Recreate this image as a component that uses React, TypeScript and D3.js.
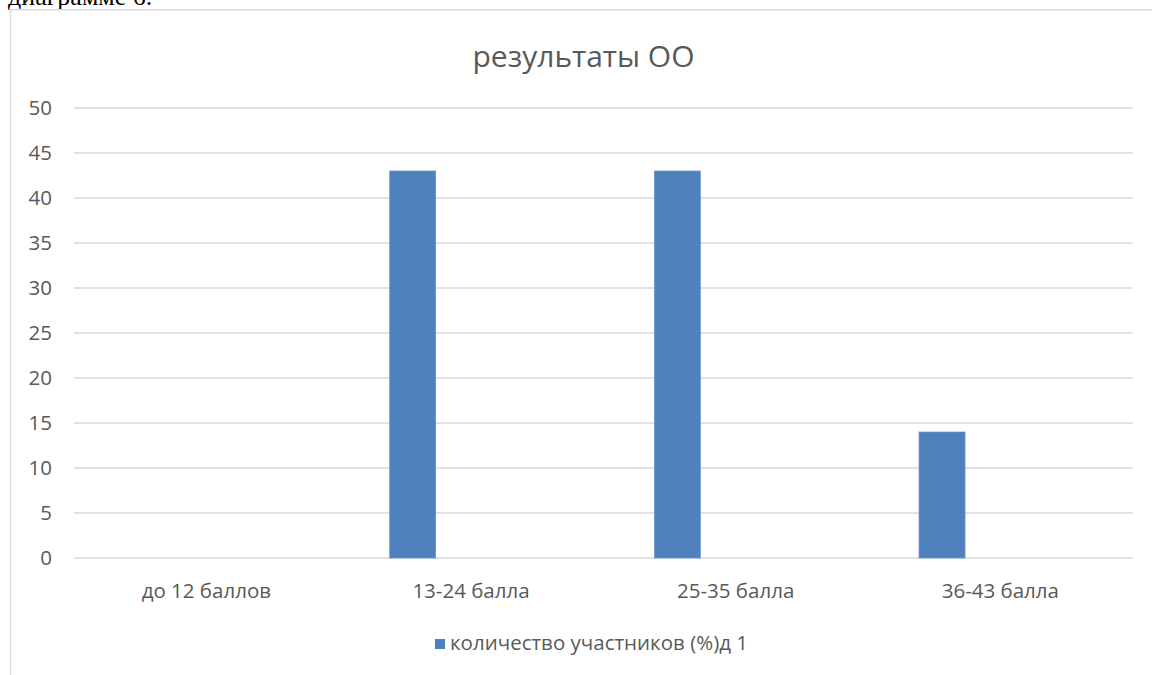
import React from "react";
import * as d3 from "d3";

const categories = ["до 12 баллов", "13-24 балла", "25-35 балла", "36-43 балла"];
const seriesName = "количество участников (%)д 1";
const values = [0, 43, 43, 14];
const yTicks = [0, 5, 10, 15, 20, 25, 30, 35, 40, 45, 50];
const title = "результаты ОО";
const captionAbove = "диаграмме 6.";

const W = 1152;
const H = 675;
const plot = { left: 74, right: 1132.7, top: 108, bottom: 558 };
const BAR = "#4f81bd";
const GRID = "#d9d9d9";
const TEXT = "#595959";
const FONT = "'Open Sans', 'Noto Sans', sans-serif";
const LABEL_SIZE = 20.5;

export default function App() {
  const x = d3.scaleBand<string>().domain(categories).range([plot.left, plot.right]).padding(0);
  const y = d3.scaleLinear().domain([0, 50]).range([plot.bottom, plot.top]);
  const bw = x.bandwidth();
  const barOffset = bw * 0.1927;
  const barWidth = bw * 0.1738;

  return (
    <svg
      width={W}
      height={H}
      style={{ position: "absolute", left: 0, top: 0, background: "#fff" }}
      xmlns="http://www.w3.org/2000/svg"
    >
      <rect x={0} y={0} width={W} height={H} fill="#fff" />
      <text x={8} y={5} fontFamily="'Liberation Serif', 'Times New Roman', serif" fontSize={26} fill="#000">
        {captionAbove}
      </text>
      {/* chart border */}
      <path d={`M10.5,${H + 2} V9.75 H${W + 2}`} fill="none" stroke={GRID} strokeWidth={1.5} />
      {/* title */}
      <text x={583.5} y={67} textAnchor="middle" fontFamily={FONT} fontSize={30} fill={TEXT}>
        {title}
      </text>
      {/* gridlines & y labels */}
      {yTicks.map((t) => (
        <g key={t}>
          <line x1={plot.left} x2={plot.right} y1={y(t)} y2={y(t)} stroke={GRID} strokeWidth={1.5} />
          <text x={52} y={y(t)} dy="0.35em" textAnchor="end" fontFamily={FONT} fontSize={LABEL_SIZE} fill={TEXT}>
            {t}
          </text>
        </g>
      ))}
      {/* bars */}
      {categories.map((c, i) =>
        values[i] > 0 ? (
          <rect
            key={c}
            x={(x(c) as number) + barOffset}
            y={y(values[i])}
            width={barWidth}
            height={y(0) - y(values[i])}
            fill={BAR}
            stroke="#6b97cc"
            strokeWidth={0.75}
          />
        ) : null
      )}
      {/* category labels */}
      {categories.map((c) => (
        <text
          key={c}
          x={(x(c) as number) + bw / 2}
          y={598}
          textAnchor="middle"
          fontFamily={FONT}
          fontSize={LABEL_SIZE}
          fill={TEXT}
        >
          {c}
        </text>
      ))}
      {/* legend */}
      <rect x={435} y={639} width={10} height={10} fill={BAR} />
      <text x={450} y={649.5} fontFamily={FONT} fontSize={LABEL_SIZE} fill={TEXT}>
        {seriesName}
      </text>
    </svg>
  );
}
